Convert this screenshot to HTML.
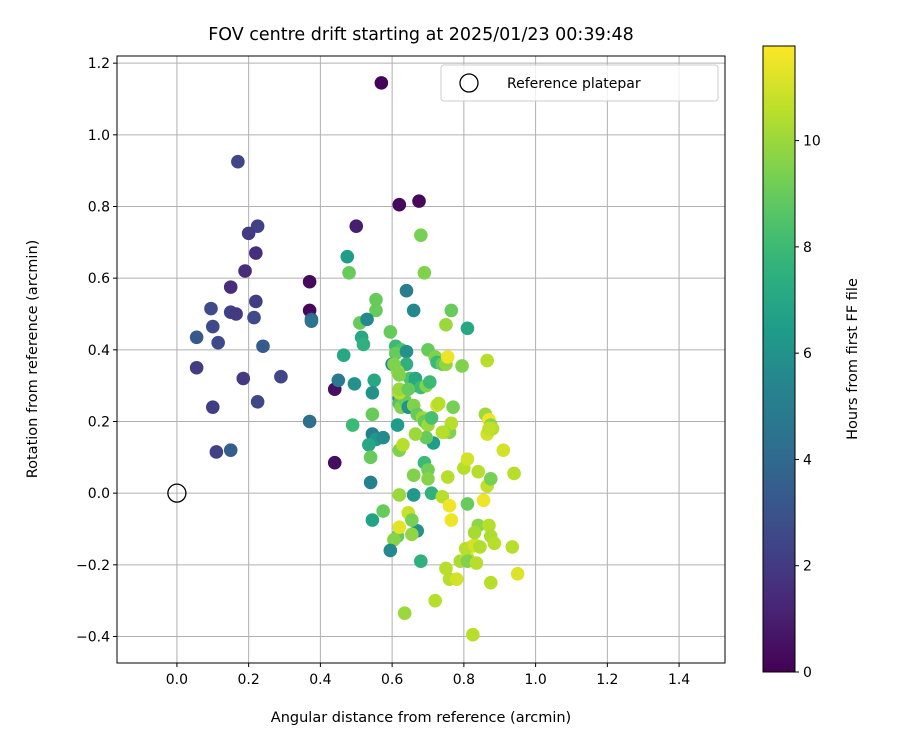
<!DOCTYPE html>
<html><head><meta charset="utf-8"><style>body{margin:0;background:#fff}svg text{font-family:"DejaVu Sans","Liberation Sans",sans-serif;fill:#000}</style></head>
<body>
<svg id="chart" width="900" height="750"></svg>
<script>
const xs=[0.57,0.62,0.675,0.37,0.37,0.44,0.44,0.50,0.17,0.225,0.20,0.22,0.19,0.15,0.22,0.095,0.15,0.165,0.215,0.055,0.10,0.115,0.24,0.055,0.185,0.29,0.10,0.225,0.15,0.11,0.37,0.375,0.375,0.45,0.475,0.48,0.555,0.555,0.51,0.53,0.515,0.52,0.465,0.495,0.55,0.545,0.49,0.545,0.555,0.575,0.535,0.54,0.545,0.54,0.545,0.575,0.64,0.66,0.68,0.69,0.595,0.61,0.625,0.61,0.64,0.60,0.64,0.65,0.665,0.66,0.68,0.695,0.705,0.70,0.72,0.725,0.74,0.75,0.755,0.75,0.765,0.81,0.795,0.77,0.76,0.765,0.745,0.74,0.62,0.62,0.625,0.635,0.645,0.66,0.67,0.685,0.69,0.70,0.71,0.725,0.73,0.715,0.695,0.665,0.62,0.63,0.615,0.62,0.62,0.615,0.62,0.645,0.605,0.66,0.69,0.70,0.70,0.71,0.66,0.62,0.645,0.67,0.655,0.655,0.615,0.62,0.605,0.595,0.68,0.635,0.72,0.74,0.755,0.76,0.765,0.75,0.76,0.78,0.79,0.81,0.82,0.805,0.83,0.81,0.835,0.84,0.83,0.845,0.87,0.875,0.885,0.875,0.825,0.81,0.80,0.81,0.84,0.855,0.865,0.875,0.86,0.87,0.865,0.875,0.88,0.87,0.865,0.91,0.94,0.935,0.95];
const ys=[1.145,0.805,0.815,0.59,0.51,0.29,0.085,0.745,0.925,0.745,0.725,0.67,0.62,0.575,0.535,0.515,0.505,0.50,0.49,0.435,0.465,0.42,0.41,0.35,0.32,0.325,0.24,0.255,0.12,0.115,0.20,0.485,0.48,0.315,0.66,0.615,0.54,0.51,0.475,0.485,0.435,0.415,0.385,0.305,0.315,0.28,0.19,0.165,0.15,0.155,0.135,0.10,0.22,0.03,-0.075,-0.05,0.565,0.51,0.72,0.615,0.45,0.41,0.40,0.39,0.395,0.36,0.36,0.32,0.32,0.30,0.295,0.30,0.31,0.40,0.38,0.365,0.36,0.36,0.38,0.47,0.51,0.46,0.355,0.24,0.17,0.195,0.17,0.17,0.265,0.25,0.24,0.26,0.24,0.245,0.22,0.21,0.2,0.19,0.21,0.245,0.25,0.14,0.155,0.165,0.12,0.135,0.19,0.28,0.29,0.34,0.33,0.29,0.36,0.05,0.085,0.065,0.04,0.00,-0.005,-0.005,-0.055,-0.105,-0.075,-0.115,-0.12,-0.095,-0.13,-0.16,-0.19,-0.335,-0.30,-0.01,0.045,-0.035,-0.075,-0.21,-0.24,-0.24,-0.19,-0.18,-0.15,-0.155,-0.145,-0.19,-0.195,-0.09,-0.11,-0.15,-0.09,-0.12,-0.14,-0.25,-0.395,-0.03,0.07,0.095,0.06,-0.02,0.02,0.04,0.22,0.205,0.165,0.19,0.18,0.18,0.37,0.12,0.055,-0.15,-0.225];
const hours=[0.1,0.3,0.3,0.3,0.2,0.5,0.4,1.0,2.5,2.3,2.0,1.5,1.5,1.5,2.2,2.6,2.3,2.0,2.7,3.3,2.6,2.6,3.3,2.1,2.0,2.5,2.2,2.5,3.5,2.3,4.3,3.5,4.5,4.8,6.5,9,9,9,9,5.5,7,7.5,7,6,7,6,8,5,6.3,5.7,7,9,9,5.2,6.8,9,5,5.5,9.3,9.5,9,8,8.5,9,6,5.5,7.5,8.5,7,7,8,9.5,8,9,9.5,8,9,9.8,11.5,10,9,7,9.5,9.3,9.5,10.5,10,10.5,6,8.5,9.5,9,6,9.5,9,10,9,10,8.3,11,10.5,6.5,9,10,9.5,10.5,6.5,10.5,10,10,9.5,9,9.5,9.5,8,9.2,9.6,7.5,6.3,10,10.8,6,9.3,9.8,9,11.3,9.6,5.5,7.5,10,10.5,10.5,10.5,11.5,11.5,10.5,10.5,11,10.3,10.6,11.5,10.5,11,9.5,10.5,9.7,10.2,10.4,10.5,10.3,10.5,10.5,10.5,9,10.5,11,10.5,11.5,10.7,9.3,10,11.5,11,9.7,10.5,10.7,10.5,11,10.5,10.5,11.2];
const xTicks=[0,0.2,0.4,0.6,0.8,1.0,1.2,1.4];
const yTicks=[-0.4,-0.2,0,0.2,0.4,0.6,0.8,1.0,1.2];
const cTicks=[0,2,4,6,8,10];
const L=117,R=725,T=56,B=663,X0=-0.167,X1=1.528,Y0=-0.474,Y1=1.22,HMAX=11.78;
const sx=v=>L+(v-X0)/(X1-X0)*(R-L), sy=v=>B-(v-Y0)/(Y1-Y0)*(B-T);
const stops=[[68,1,84],[72,40,120],[62,74,137],[49,104,142],[38,130,142],[31,158,137],[53,183,121],[110,206,88],[181,222,43],[253,231,37]];
function vir(t){t=Math.max(0,Math.min(1,t));const f=t*9,i=Math.min(8,Math.floor(f)),r=f-i,a=stops[i],b=stops[i+1];return `rgb(${a.map((c,k)=>Math.round(c+(b[k]-c)*r)).join(',')})`;}
const svg=document.getElementById('chart'),NS='http://www.w3.org/2000/svg';
function el(t,a,p){const e=document.createElementNS(NS,t);for(const k in a)e.setAttribute(k,a[k]);(p||svg).appendChild(e);return e;}
function txt(s,a,p){const e=el('text',a,p);e.textContent=s;return e;}
// grid
xTicks.forEach(v=>{const g=el('line',{x1:sx(v),x2:sx(v),y1:T,y2:B,stroke:'#b0b0b0','stroke-width':1});


el('line',{x1:sx(v),x2:sx(v),y1:B,y2:B+4,stroke:'#000'});
const t=txt(v.toFixed(1),{x:sx(v),y:B+21,'text-anchor':'middle','font-size':14});

});
yTicks.forEach(v=>{const g=el('line',{x1:L,x2:R,y1:sy(v),y2:sy(v),stroke:'#b0b0b0','stroke-width':1});


el('line',{x1:L-4,x2:L,y1:sy(v),y2:sy(v),stroke:'#000'});
const t=txt((v<0?'\u2212':'')+Math.abs(v).toFixed(1),{x:L-7,y:sy(v)+5,'text-anchor':'end','font-size':14});

});
// points
xs.forEach((x,i)=>{const c=el('circle',{cx:sx(x),cy:sy(ys[i]),r:6.8,fill:vir(hours[i]/HMAX)});

});
const ref=el('circle',{cx:sx(0),cy:sy(0),r:9,fill:'none',stroke:'#000','stroke-width':1.3});


el('rect',{x:L,y:T,width:R-L,height:B-T,fill:'none',stroke:'#000','stroke-width':1});
// legend
const lg=el('g',{});


el('rect',{x:441,y:65,width:277,height:36,rx:3,fill:'#fff','fill-opacity':0.8,stroke:'#ccc'},lg);
el('circle',{cx:469,cy:83,r:9,fill:'none',stroke:'#000','stroke-width':1.3},lg);
txt('Reference platepar',{x:507,y:88,'font-size':14},lg);
// title, labels
const tt=txt('FOV centre drift starting at 2025/01/23 00:39:48',{x:421,y:40,'text-anchor':'middle','font-size':17.5});


const xl=txt('Angular distance from reference (arcmin)',{x:421,y:722,'text-anchor':'middle','font-size':14.5});


const yl=txt('Rotation from reference (arcmin)',{x:0,y:0,'text-anchor':'middle','font-size':14.5,transform:'translate(37,359) rotate(-90)'});


// colorbar
const CL=763,CR=795,CT=46,CB=672;
const defs=el('defs',{});const gr=el('linearGradient',{id:'vg',x1:0,y1:1,x2:0,y2:0},defs);
for(let i=0;i<=20;i++)el('stop',{offset:i/20,'stop-color':vir(i/20)},gr);
const cb=el('rect',{x:CL,y:CT,width:CR-CL,height:CB-CT,fill:'url(#vg)',stroke:'#000','stroke-width':1});


cTicks.forEach(v=>{const y=CB-v/HMAX*(CB-CT);el('line',{x1:CR,x2:CR+4,y1:y,y2:y,stroke:'#000'});
const t=txt(String(v),{x:CR+8,y:y+5,'font-size':14});

});
const cl=txt('Hours from first FF file',{x:0,y:0,'text-anchor':'middle','font-size':14.5,transform:'translate(857,359) rotate(-90)'});


</script>
</body></html>
